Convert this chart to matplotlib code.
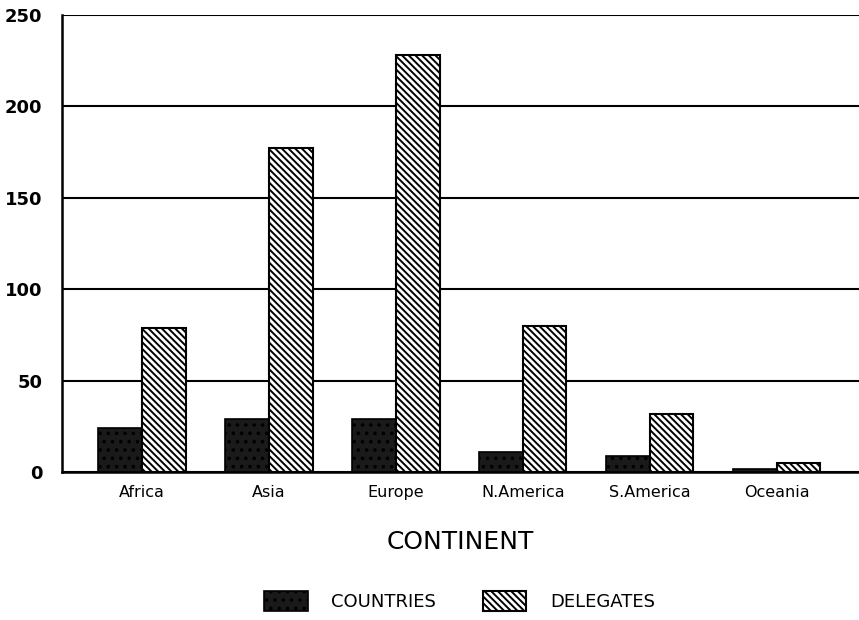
import numpy as np
import matplotlib
matplotlib.use('Agg')
import matplotlib.pyplot as plt

continents = ['Africa', 'Asia', 'Europe', 'N.America', 'S.America', 'Oceania']
countries = [24, 29, 29, 11, 9, 1.5]
delegates = [79, 177, 228, 80, 32, 5]
yticks = [0, 50, 100, 150, 200, 250]

plt.rcParams['font.family'] = ['DejaVu Sans']
plt.rcParams['hatch.linewidth'] = 1.4

fig = plt.figure(figsize=(8.59, 6.2), dpi=100)
ax = fig.add_axes([0.0722, 0.2387, 0.9278, 0.7371])

x = np.arange(len(continents))
w = 0.345

ax.bar(x - w / 2, countries, w, color='#1a1a1a', edgecolor='black',
       hatch='..', linewidth=1.2, label='COUNTRIES', zorder=3)
ax.bar(x + w / 2, delegates, w, color='white', edgecolor='black',
       hatch='\\\\\\\\\\', linewidth=1.5, label='DELEGATES', zorder=3)

ax.set_xlim(-0.63, 5.65)
ax.set_ylim(0, 250)
ax.set_yticks(yticks)
ax.set_yticklabels([str(v) for v in yticks], fontsize=13, fontweight='bold')
ax.set_xticks(x)
ax.set_xticklabels(continents, fontsize=11.5)
ax.tick_params(axis='both', length=0)
ax.tick_params(axis='y', pad=14)
ax.tick_params(axis='x', pad=9)

ax.grid(axis='y', color='black', linewidth=1.5, zorder=0)
for s in ['top', 'right']:
    ax.spines[s].set_visible(False)
ax.spines['left'].set_linewidth(1.8)
ax.spines['bottom'].set_linewidth(1.8)

ax.set_xlabel('CONTINENT', fontsize=18, labelpad=22)

leg = fig.legend(loc='lower center', bbox_to_anchor=(0.535, -0.012), ncol=2,
                 frameon=False, fontsize=13, handlelength=2.4,
                 handleheight=1.3, columnspacing=2.6, handletextpad=1.3)

fig.savefig('out.png', dpi=100)
